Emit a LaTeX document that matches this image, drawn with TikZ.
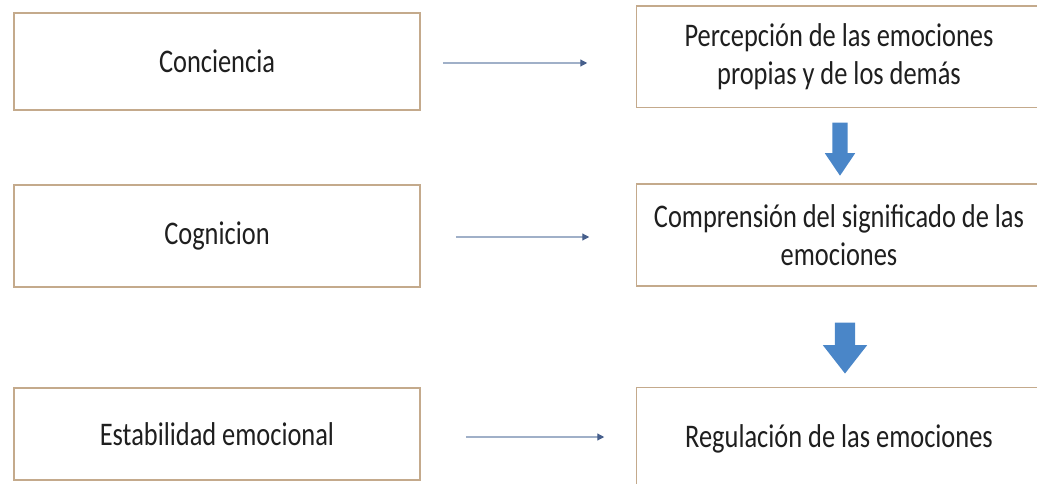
\documentclass[tikz,border=0pt]{standalone}
\usepackage{fontspec}
\setmainfont{Carlito}[FakeStretch=0.8]
\usetikzlibrary{positioning}
\usetikzlibrary{calc}
\usetikzlibrary{arrows.meta}
\usetikzlibrary{shapes.arrows}
\definecolor{boxline}{RGB}{196,170,140}
\definecolor{linkline}{RGB}{160,176,200}
\definecolor{linktip}{RGB}{70,95,140}
\definecolor{bigblue}{RGB}{74,134,200}
\tikzset{
        % Boxes on both columns
        concept/.style={draw=boxline, line width=1.5pt, fill=white, align=center,
                        font=\fontsize{33}{38}\selectfont, text=black!88},
        % Right column: the frame runs off the page on the right
        result/.style={concept, draw=none, minimum width=404pt},
        frame/.style={draw=boxline, line width=1.5pt},
        % Thin arrows between the columns
        link/.style={draw=linkline, line width=1.2pt, -{Triangle[length=7pt,width=7pt,color=linktip]}},
        % Big blue arrows down the right column
        downarrow/.style={single arrow, fill=bigblue, draw=none, rotate=-90, inner sep=0pt}
}
\begin{document}
\begin{tikzpicture}[x=1pt, y=1pt]
    \clip (0,0) rectangle (1037,483);
    \useasboundingbox (0,0) rectangle (1037,483);
    % left column
    \node[concept, minimum width=406pt, minimum height=97pt] (conc) at (217,421.5) {Conciencia};
    \node[concept, minimum width=406pt, minimum height=102pt] (cogn) at (217,247) {Cognicion};
    \node[concept, minimum width=406pt, minimum height=92pt] (estab) at (217,49) {Estabilidad emocional};
    % right column
    \node[result, minimum height=100pt] (perc) at (839,426) {Percepción de las emociones\\propias y de los demás};
    \node[result, minimum height=100pt] (compr) at (839,248) {Comprensión del significado de las\\emociones};
    \node[result, minimum height=102pt] (regul) at (839,44) {Regulación de las emociones};
    \foreach \b in {perc,compr,regul}
        \draw[frame] ($(\b.north east)+(20,0)$) -- (\b.north west) -- (\b.south west) -- ($(\b.south east)+(20,0)$);
    % thin arrows
    \draw[link, shorten <=22pt, shorten >=49pt] (conc.east |- 0,420) -- (perc.west |- 0,420);
    \draw[link, shorten <=35pt, shorten >=47pt] (cogn.east |- 0,246) -- (compr.west |- 0,246);
    \draw[link, shorten <=45pt, shorten >=32pt] (estab.east |- 0,46) -- (regul.west |- 0,46);
    % block arrows
    \node[downarrow, minimum height=53pt, minimum width=30pt, inner ysep=7.5pt,
          single arrow head extend=7.5pt, single arrow tip angle=68] (d1) at (840,339.5) {};
    \node[downarrow, minimum height=51pt, minimum width=44pt, inner ysep=10pt,
          single arrow head extend=12pt, single arrow tip angle=76] (d2) at (845,141.5) {};
\end{tikzpicture}
\end{document}
